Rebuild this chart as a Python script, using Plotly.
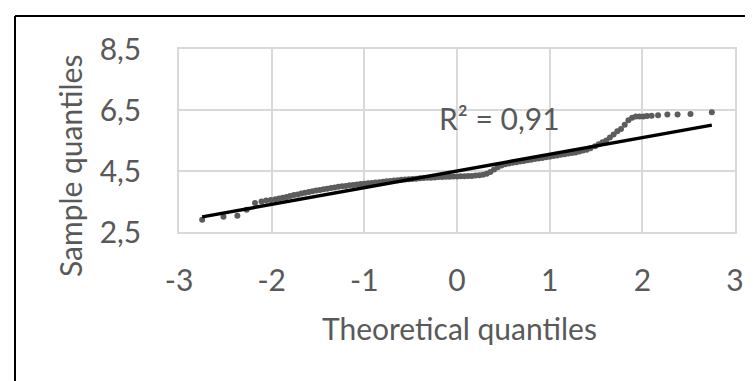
import plotly.graph_objects as go

# ---- data ----
theoretical_q = [-2.75, -2.52, -2.37, -2.27, -2.18, -2.11, -2.06, -2.01, -1.96, -1.92,
                 -1.88, -1.84, -1.80, -1.76, -1.72, -1.68, -1.64, -1.60, -1.56, -1.52,
                 -1.48, -1.44, -1.40, -1.36, -1.32, -1.28, -1.24, -1.20, -1.16, -1.12,
                 -1.08, -1.04, -1.00, -0.96, -0.92, -0.88, -0.84, -0.80, -0.76, -0.72,
                 -0.68, -0.64, -0.60, -0.56, -0.52, -0.48, -0.44, -0.40, -0.36, -0.32,
                 -0.28, -0.24, -0.20, -0.16, -0.12, -0.08, -0.04, 0.00, 0.04, 0.08,
                 0.12, 0.16, 0.20, 0.24, 0.28, 0.32, 0.36, 0.40, 0.44, 0.48,
                 0.52, 0.56, 0.60, 0.64, 0.68, 0.72, 0.76, 0.80, 0.84, 0.88,
                 0.92, 0.96, 1.00, 1.04, 1.08, 1.12, 1.16, 1.20, 1.24, 1.28,
                 1.32, 1.36, 1.40, 1.44, 1.49, 1.53, 1.57, 1.61, 1.65, 1.69,
                 1.73, 1.77, 1.81, 1.85, 1.89, 1.93, 1.97, 2.01, 2.05, 2.10,
                 2.17, 2.27, 2.38, 2.52, 2.75]
sample_q = [2.90, 3.00, 3.03, 3.23, 3.45, 3.50, 3.53, 3.55, 3.57, 3.60,
            3.62, 3.65, 3.68, 3.71, 3.73, 3.76, 3.79, 3.81, 3.84, 3.86,
            3.88, 3.90, 3.92, 3.94, 3.96, 3.98, 4.00, 4.01, 4.03, 4.04,
            4.06, 4.07, 4.08, 4.10, 4.11, 4.12, 4.13, 4.15, 4.16, 4.17,
            4.19, 4.20, 4.21, 4.22, 4.23, 4.24, 4.25, 4.26, 4.27, 4.28,
            4.28, 4.29, 4.30, 4.30, 4.31, 4.31, 4.32, 4.32, 4.33, 4.33,
            4.34, 4.34, 4.35, 4.36, 4.38, 4.41, 4.47, 4.55, 4.62, 4.68,
            4.72, 4.75, 4.77, 4.79, 4.81, 4.83, 4.85, 4.87, 4.89, 4.91,
            4.93, 4.95, 4.97, 4.99, 5.01, 5.03, 5.05, 5.07, 5.09, 5.11,
            5.14, 5.17, 5.20, 5.25, 5.31, 5.38, 5.44, 5.50, 5.60, 5.70,
            5.80, 5.88, 6.02, 6.16, 6.25, 6.29, 6.29, 6.29, 6.30, 6.31,
            6.33, 6.35, 6.35, 6.37, 6.43]

trend_slope = 0.547
trend_intercept = 4.50
r_squared_label = "R² = 0,91"

x_tick_values = [-3, -2, -1, 0, 1, 2, 3]
x_tick_labels = ["-3", "-2", "-1", "0", "1", "2", "3"]
y_tick_values = [2.5, 4.5, 6.5, 8.5]
y_tick_labels = ["2,5", "4,5", "6,5", "8,5"]

x_title = "Theoretical quantiles"
y_title = "Sample quantiles"

# ---- figure ----
W, H = 753, 381
L, R, T, B = 171, 26, 41, 157
pw, ph = W - L - R, H - T - B


def px_x(p):
    return (p - L) / pw


def px_y(p):
    return (H - B - p) / ph


FONT = "Lato"
FS = 30
TXT = "#595959"
GRID = "#d9d9d9"

trend_x = [min(theoretical_q), max(theoretical_q)]
trend_y = [trend_intercept + trend_slope * v for v in trend_x]

fig = go.Figure()
fig.add_trace(go.Scatter(
    x=theoretical_q, y=sample_q, mode="markers",
    marker=dict(size=6, color="#5c5c5c", line=dict(width=0)),
    showlegend=False, hoverinfo="skip"))
fig.add_trace(go.Scatter(
    x=trend_x, y=trend_y, mode="lines",
    line=dict(color="black", width=3.5),
    showlegend=False, hoverinfo="skip"))

fig.update_layout(
    width=W, height=H,
    margin=dict(l=L, r=R, t=T, b=B, pad=0),
    paper_bgcolor="white", plot_bgcolor="white",
    font=dict(family=FONT, size=FS, color=TXT),
    xaxis=dict(range=[-3, 3], tickvals=x_tick_values, ticktext=x_tick_labels,
               showgrid=True, gridcolor=GRID, gridwidth=1.5, zeroline=False,
               showline=True, linecolor=GRID, linewidth=1.5, mirror=True,
               ticks="", ticklabelstandoff=21,
               tickfont=dict(family=FONT, size=FS, color=TXT)),
    yaxis=dict(range=[2.5, 8.5], tickvals=y_tick_values, ticktext=y_tick_labels,
               showgrid=True, gridcolor=GRID, gridwidth=1.5, zeroline=False,
               showline=True, linecolor=GRID, linewidth=1.5, mirror=True,
               ticks="", ticklabelstandoff=30,
               tickfont=dict(family=FONT, size=FS, color=TXT)),
    annotations=[
        dict(text=x_title, xref="paper", yref="paper", x=px_x(451), y=px_y(320),
             xanchor="center", yanchor="middle", showarrow=False,
             font=dict(family=FONT, size=FS, color=TXT)),
        dict(text=y_title, xref="paper", yref="paper", x=px_x(62), y=px_y(158),
             xanchor="center", yanchor="middle", showarrow=False, textangle=-90,
             font=dict(family=FONT, size=FS, color=TXT)),
        dict(text=r_squared_label, xref="paper", yref="paper", x=px_x(491), y=px_y(110),
             xanchor="center", yanchor="middle", showarrow=False,
             font=dict(family=FONT, size=FS, color=TXT)),
    ],
    shapes=[
        dict(type="line", xref="paper", yref="paper",
             x0=px_x(7), x1=px_x(760), y0=px_y(8), y1=px_y(8),
             line=dict(color="black", width=2)),
        dict(type="line", xref="paper", yref="paper",
             x0=px_x(7), x1=px_x(7), y0=px_y(8), y1=px_y(390),
             line=dict(color="black", width=2)),
    ],
)

fig.write_html("out.html")
